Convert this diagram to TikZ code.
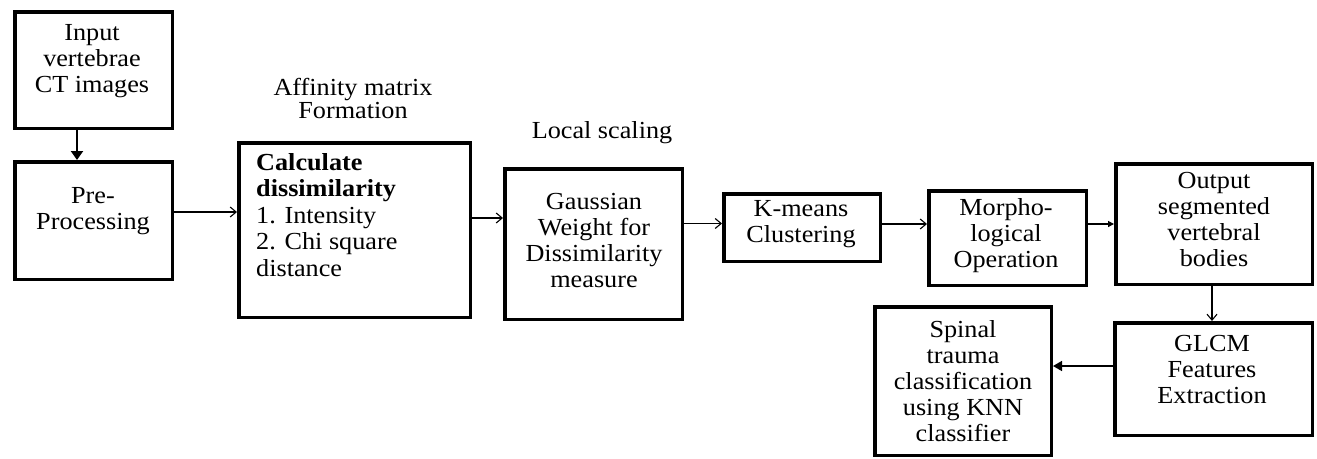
\documentclass[tikz,border=0pt]{standalone}
\usepackage{fontspec}
\setmainfont{Liberation Serif}[FakeStretch=1.07]
\usetikzlibrary{arrows.meta}
\begin{document}
\begin{tikzpicture}[x=1pt,y=-1pt,
  box/.style={draw, line width=3.5pt, inner sep=0pt},
  txt/.style={align=center, font=\fontsize{24.5}{26}\selectfont, inner sep=0pt},
  conn/.style={line width=1.1pt, -{Straight Barb[length=6pt,width=10pt]}},
  fconn/.style={line width=2pt, -{Triangle[length=9pt,width=12pt]}},
  sconn/.style={line width=1.2pt, -{Triangle[length=6pt,width=6pt]}},
  mconn/.style={line width=1.6pt, -{Triangle[length=9pt,width=10pt]}}
]
\useasboundingbox (0,0) rectangle (1317,458);

% boxes
\node[box, minimum width=157.5pt, minimum height=116.5pt] (inp) at (93.5,70) {};
\node[box, minimum width=157.5pt, minimum height=117.5pt] (pre) at (93.5,220.5) {};
\node[box, minimum width=231.5pt, minimum height=174.5pt] (calc) at (354.5,230) {};
\node[box, minimum width=177.5pt, minimum height=150.5pt] (gau) at (593.5,244) {};
\node[box, minimum width=156.5pt, minimum height=67.5pt] (km) at (802,227.5) {};
\node[box, minimum width=157.5pt, minimum height=94.5pt] (mor) at (1007.5,238) {};
\node[box, minimum width=196.5pt, minimum height=120.5pt] (out) at (1214,224) {};
\node[box, minimum width=197.5pt, minimum height=112.5pt] (glcm) at (1213.5,379) {};
\node[box, minimum width=176.5pt, minimum height=148.5pt] (spi) at (963,381) {};

% texts
\node[txt] (inpT) at (92,61) {Input\\vertebrae\\CT images};
\node[txt] (preT) at (93,211) {Pre-\\Processing};
\node[txt, anchor=west, align=left, font=\fontsize{24.5}{26.5}\selectfont] (calcT) at (256,215)
  {\textbf{Calculate}\\\textbf{dissimilarity}\\1. Intensity\\2. Chi square\\distance};
\node[txt] (gauT) at (594,241) {Gaussian\\Weight for\\Dissimilarity\\measure};
\node[txt] (kmT) at (801,224.5) {K-means\\Clustering};
\node[txt] (morT) at (1006,236) {Morpho-\\logical\\Operation};
\node[txt] (outT) at (1214,220) {Output\\segmented\\vertebral\\bodies};
\node[txt] (glcmT) at (1212,370) {GLCM\\Features\\Extraction};
\node[txt] (spiT) at (963,381) {Spinal\\trauma\\classification\\using KNN\\classifier};

\node[txt, font=\fontsize{24.5}{23}\selectfont] (aff) at (353,98.5) {Affinity matrix\\Formation};
\node[txt] (loc) at (602,133) {Local scaling};

% connectors
\coordinate (a1) at (77,0);
\coordinate (a2) at (0,212);
\coordinate (a3) at (0,218);
\coordinate (a4) at (0,223.5);
\coordinate (a5) at (0,224);
\coordinate (a6) at (0,224);
\coordinate (a7) at (1212,0);
\coordinate (a8) at (0,366);

\draw[fconn] (inp.south -| a1) -- (pre.north -| a1);
\draw[conn] (pre.east |- a2) -- (calc.west |- a2);
\draw[conn] (calc.east |- a3) -- (gau.west |- a3);
\draw[conn] (gau.east |- a4) -- (km.west |- a4);
\draw[conn] (km.east |- a5) -- (mor.west |- a5);
\draw[sconn] (mor.east |- a6) -- (out.west |- a6);
\draw[conn] (out.south -| a7) -- (glcm.north -| a7);
\draw[mconn] (glcm.west |- a8) -- (spi.east |- a8);
\end{tikzpicture}
\end{document}
